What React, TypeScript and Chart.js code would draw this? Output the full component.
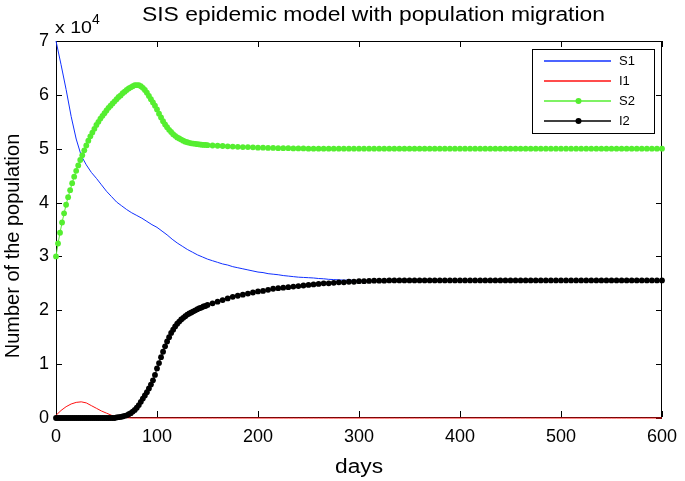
import React, { useEffect, useRef } from "react";
import { Chart, registerables } from "chart.js";

Chart.register(...registerables);

// ---------------- data (population in units of 10^4) ----------------
// time grid of the solid-line series (S1, I1)
const lineDays = [
  0, 5, 10, 15, 20, 25, 30, 35, 40, 45,
  50, 55, 60, 65, 70, 75, 80, 85, 90, 95,
  100, 105, 110, 115, 120, 125, 130, 135, 140, 145,
  150, 155, 160, 165, 170, 175, 180, 185, 190, 195,
  200, 205, 210, 215, 220, 225, 230, 235, 240, 245,
  250, 255, 260, 265, 270, 275, 280, 285, 290, 295,
  300, 305, 310, 315, 320, 325, 330, 335, 340, 345,
  350, 355, 360, 365, 370, 375, 380, 385, 390, 395,
  400, 405, 410, 415, 420, 425, 430, 435, 440, 445,
  450, 455, 460, 465, 470, 475, 480, 485, 490, 495,
  500, 505, 510, 515, 520, 525, 530, 535, 540, 545,
  550, 555, 560, 565, 570, 575, 580, 585, 590, 595,
  600,
];

const S1 = [
  7.0, 6.56, 6.1, 5.6, 5.18, 4.87, 4.7, 4.56, 4.45, 4.33,
  4.21, 4.11, 4.01, 3.94, 3.87, 3.81, 3.76, 3.71, 3.65, 3.59,
  3.54, 3.47, 3.4, 3.32, 3.25, 3.19, 3.13, 3.08, 3.03, 2.99,
  2.95, 2.92, 2.89, 2.86, 2.84, 2.81, 2.79, 2.77, 2.75, 2.73,
  2.71, 2.7, 2.68, 2.67, 2.66, 2.645, 2.635, 2.625, 2.615, 2.61,
  2.605, 2.6, 2.59, 2.585, 2.575, 2.57, 2.565, 2.56, 2.56, 2.555,
  2.55, 2.55, 2.55, 2.55, 2.55, 2.55, 2.55, 2.55, 2.55, 2.55,
  2.55, 2.55, 2.55, 2.55, 2.55, 2.55, 2.55, 2.55, 2.55, 2.55,
  2.55, 2.55, 2.55, 2.55, 2.55, 2.55, 2.55, 2.55, 2.55, 2.55,
  2.55, 2.55, 2.55, 2.55, 2.55, 2.55, 2.55, 2.55, 2.55, 2.55,
  2.55, 2.55, 2.55, 2.55, 2.55, 2.55, 2.55, 2.55, 2.55, 2.55,
  2.55, 2.55, 2.55, 2.55, 2.55, 2.55, 2.55, 2.55, 2.55, 2.55,
  2.55,
];

const I1 = [
  0.05, 0.14, 0.21, 0.26, 0.29, 0.3, 0.28, 0.23, 0.18, 0.13,
  0.09, 0.05, 0.02, 0.01, 0.005, 0, 0, 0, 0, 0,
  0, 0, 0, 0, 0, 0, 0, 0, 0, 0,
  0, 0, 0, 0, 0, 0, 0, 0, 0, 0,
  0, 0, 0, 0, 0, 0, 0, 0, 0, 0,
  0, 0, 0, 0, 0, 0, 0, 0, 0, 0,
  0, 0, 0, 0, 0, 0, 0, 0, 0, 0,
  0, 0, 0, 0, 0, 0, 0, 0, 0, 0,
  0, 0, 0, 0, 0, 0, 0, 0, 0, 0,
  0, 0, 0, 0, 0, 0, 0, 0, 0, 0,
  0, 0, 0, 0, 0, 0, 0, 0, 0, 0,
  0, 0, 0, 0, 0, 0, 0, 0, 0, 0,
  0,
];

// time grid of the marker series (S2, I2): finer where the solver stepped finely
const markerDays = [
  0, 2, 4, 6, 8, 10, 12, 14, 16, 18,
  20, 22, 24, 26, 28, 30, 32, 34, 36, 38,
  40, 42, 44, 46, 48, 50, 52, 54, 56, 58,
  60, 62, 64, 66, 68, 70, 72, 74, 76, 78,
  80, 82, 84, 86, 88, 90, 92, 94, 96, 98,
  100, 102, 104, 106, 108, 110, 112, 114, 116, 118,
  120, 122, 124, 126, 128, 130, 132, 134, 136, 138,
  140, 142, 144, 146, 148, 150,
  155, 160, 165, 170, 175, 180, 185, 190, 195,
  200, 205, 210, 215, 220, 225, 230, 235, 240, 245,
  250, 255, 260, 265, 270, 275, 280, 285, 290, 295,
  300, 305, 310, 315, 320, 325, 330, 335, 340, 345,
  350, 355, 360, 365, 370, 375, 380, 385, 390, 395,
  400, 405, 410, 415, 420, 425, 430, 435, 440, 445,
  450, 455, 460, 465, 470, 475, 480, 485, 490, 495,
  500, 505, 510, 515, 520, 525, 530, 535, 540, 545,
  550, 555, 560, 565, 570, 575, 580, 585, 590, 595,
  600,
];

const S2 = [
  3.0, 3.24, 3.44, 3.63, 3.8, 3.96, 4.1, 4.23, 4.36, 4.48,
  4.59, 4.69, 4.79, 4.88, 4.97, 5.06, 5.15, 5.23, 5.3, 5.37,
  5.44, 5.5, 5.56, 5.61, 5.66, 5.71, 5.76, 5.8, 5.84, 5.88,
  5.92, 5.96, 5.99, 6.03, 6.06, 6.09, 6.12, 6.14, 6.16, 6.18,
  6.18, 6.18, 6.16, 6.13, 6.09, 6.04, 5.98, 5.92, 5.86, 5.8,
  5.73, 5.65, 5.58, 5.51, 5.45, 5.4, 5.35, 5.31, 5.27, 5.24,
  5.21, 5.19, 5.17, 5.15, 5.13, 5.12, 5.11, 5.1, 5.095, 5.09,
  5.085, 5.08, 5.075, 5.07, 5.07, 5.065,
  5.06, 5.055, 5.05, 5.045, 5.04, 5.035, 5.03, 5.03, 5.025,
  5.02, 5.02, 5.015, 5.015, 5.01, 5.01, 5.01, 5.005, 5.005, 5.005,
  5.0, 5.0, 5.0, 5.0, 5.0, 5.0, 5.0, 5.0, 5.0, 5.0,
  5.0, 5.0, 5.0, 5.0, 5.0, 5.0, 5.0, 5.0, 5.0, 5.0,
  5.0, 5.0, 5.0, 5.0, 5.0, 5.0, 5.0, 5.0, 5.0, 5.0,
  5.0, 5.0, 5.0, 5.0, 5.0, 5.0, 5.0, 5.0, 5.0, 5.0,
  5.0, 5.0, 5.0, 5.0, 5.0, 5.0, 5.0, 5.0, 5.0, 5.0,
  5.0, 5.0, 5.0, 5.0, 5.0, 5.0, 5.0, 5.0, 5.0, 5.0,
  5.0, 5.0, 5.0, 5.0, 5.0, 5.0, 5.0, 5.0, 5.0, 5.0,
  5.0,
];

const I2 = [
  0, 0, 0, 0, 0, 0, 0, 0, 0, 0,
  0, 0, 0, 0, 0, 0, 0, 0, 0, 0,
  0, 0, 0, 0, 0, 0, 0, 0, 0, 0,
  0.01, 0.015, 0.02, 0.03, 0.04, 0.05, 0.07, 0.09, 0.12, 0.15,
  0.19, 0.24, 0.3, 0.36, 0.42, 0.48, 0.55, 0.62, 0.7, 0.8,
  0.92, 1.02, 1.13, 1.23, 1.33, 1.42, 1.5, 1.58, 1.64, 1.7,
  1.75, 1.79, 1.83, 1.86, 1.89, 1.92, 1.94, 1.96, 1.98, 2.0,
  2.02, 2.04, 2.05, 2.07, 2.08, 2.1,
  2.13, 2.16, 2.19, 2.22, 2.25, 2.27, 2.29, 2.31, 2.33,
  2.35, 2.36, 2.38, 2.4, 2.41, 2.42, 2.43, 2.44, 2.45, 2.46,
  2.47, 2.48, 2.49, 2.5, 2.5, 2.51, 2.52, 2.52, 2.53, 2.53,
  2.54, 2.54, 2.545, 2.55, 2.55, 2.55, 2.555, 2.555, 2.555, 2.555,
  2.555, 2.555, 2.555, 2.555, 2.555, 2.555, 2.555, 2.555, 2.555, 2.555,
  2.555, 2.555, 2.555, 2.555, 2.555, 2.555, 2.555, 2.555, 2.555, 2.555,
  2.555, 2.555, 2.555, 2.555, 2.555, 2.555, 2.555, 2.555, 2.555, 2.555,
  2.555, 2.555, 2.555, 2.555, 2.555, 2.555, 2.555, 2.555, 2.555, 2.555,
  2.555, 2.555, 2.555, 2.555, 2.555, 2.555, 2.555, 2.555, 2.555, 2.555,
  2.555,
];

const xTicks = [0, 100, 200, 300, 400, 500, 600];
const yTicks = [0, 1, 2, 3, 4, 5, 6, 7];
const seriesNames = ["S1", "I1", "S2", "I2"];
const titleText = "SIS epidemic model with population migration";
const xLabelText = "days";
const yLabelText = "Number of the population";
const multiplierText = "x 10";
const exponentText = "4";

// ---------------- styling ----------------
const FONT = "'Liberation Sans', Arial, Helvetica, sans-serif";
const COLORS = ["#1030ff", "#ff1010", "#55ee30", "#000000"];
const HAS_MARKERS = [false, false, true, true];

function fillScaled(
  ctx: CanvasRenderingContext2D,
  text: string,
  x: number,
  y: number,
  size: number,
  align: CanvasTextAlign,
  targetWidth?: number
) {
  ctx.save();
  ctx.font = `${size}px ${FONT}`;
  ctx.textBaseline = "alphabetic";
  ctx.textAlign = align;
  const w = ctx.measureText(text).width;
  const sx = targetWidth ? targetWidth / w : 1;
  ctx.translate(x, y);
  ctx.scale(sx, 1);
  ctx.fillText(text, 0, 0);
  ctx.restore();
}

const framePlugin = {
  id: "matlabFrame",
  beforeDatasetsDraw(chart: any) {
    const { ctx, chartArea: a, scales } = chart;
    ctx.save();
    ctx.fillStyle = "#000";
    const L = Math.round(a.left);
    const R = Math.round(a.right) - 1;
    const T = Math.round(a.top);
    const B = Math.round(a.bottom) - 1;
    // box
    ctx.fillRect(L, T, R - L + 1, 1);
    ctx.fillRect(L, B, R - L + 1, 1);
    ctx.fillRect(L, T, 1, B - T + 1);
    ctx.fillRect(R, T, 1, B - T + 1);
    // inward ticks on all four sides
    const tl = 6;
    for (const v of xTicks) {
      const px = Math.round(scales.x.getPixelForValue(v));
      ctx.fillRect(px, B - tl, 1, tl);
      ctx.fillRect(px, T, 1, tl);
    }
    for (const v of yTicks) {
      const py = Math.round(scales.y.getPixelForValue(v));
      ctx.fillRect(L, py, tl, 1);
      ctx.fillRect(R - tl + 1, py, tl, 1);
    }
    ctx.restore();
  },
  afterDraw(chart: any) {
    const { ctx, chartArea: a } = chart;
    ctx.save();
    ctx.fillStyle = "#000";
    // title
    fillScaled(ctx, titleText, 373.5, 21, 20, "center", 463);
    // axis multiplier
    fillScaled(ctx, multiplierText, 55, 33, 17, "left", 37);
    fillScaled(ctx, exponentText, 92, 23.5, 14, "left");
    // x label
    fillScaled(ctx, xLabelText, (a.left + a.right) / 2, 473, 20, "center", 48);
    // y label
    ctx.save();
    ctx.translate(18.5, 246);
    ctx.rotate(-Math.PI / 2);
    ctx.font = `20px ${FONT}`;
    ctx.textAlign = "center";
    ctx.textBaseline = "alphabetic";
    ctx.fillStyle = "#000";
    ctx.fillText(yLabelText, 0, 0);
    ctx.restore();

    // legend
    const lx0 = 532, ly0 = 49, lw = 123, lh = 85;
    ctx.fillStyle = "#fff";
    ctx.fillRect(lx0, ly0, lw, lh);
    ctx.fillStyle = "#000";
    ctx.fillRect(lx0, ly0, lw, 1);
    ctx.fillRect(lx0, ly0 + lh - 1, lw, 1);
    ctx.fillRect(lx0, ly0, 1, lh);
    ctx.fillRect(lx0 + lw - 1, ly0, 1, lh);
    for (let i = 0; i < seriesNames.length; i++) {
      const y = 61 + 20 * i;
      const col = COLORS[i];
      ctx.save();
      ctx.strokeStyle = col;
      ctx.lineWidth = 1.3;
      ctx.beginPath();
      ctx.moveTo(544, y);
      ctx.lineTo(611, y);
      ctx.stroke();
      ctx.restore();
      if (HAS_MARKERS[i]) {
        ctx.save();
        ctx.fillStyle = col;
        ctx.beginPath();
        ctx.arc(578.5, y, 3, 0, Math.PI * 2);
        ctx.closePath();
        ctx.fill();
        ctx.restore();
      }
      ctx.save();
      ctx.fillStyle = "#000";
      ctx.font = `13px ${FONT}`;
      ctx.textAlign = "left";
      ctx.textBaseline = "middle";
      ctx.fillText(seriesNames[i], 619, y + 0.5);
      ctx.restore();
    }
    ctx.restore();
  },
};

const seriesValues = [S1, I1, S2, I2];
const seriesDays = [lineDays, lineDays, markerDays, markerDays];

export default function App() {
  const canvasRef = useRef<HTMLCanvasElement | null>(null);

  useEffect(() => {
    if (!canvasRef.current) return;
    const datasets = seriesNames.map((name, i) => ({
      label: name,
      data: seriesDays[i].map((d, k) => ({ x: d, y: seriesValues[i][k] })),
      borderColor: COLORS[i],
      backgroundColor: COLORS[i],
      borderWidth: 1,
      pointRadius: HAS_MARKERS[i] ? 2.9 : 0,
      pointBorderWidth: 0,
      pointBackgroundColor: COLORS[i],
      pointBorderColor: COLORS[i],
      tension: 0,
      fill: false,
      clip: false as any,
      order: 4 - i,
    }));

    const chart = new Chart(canvasRef.current, {
      type: "line",
      data: { datasets },
      options: {
        responsive: false,
        maintainAspectRatio: false,
        animation: false,
        events: [],
        layout: { padding: { left: 0, right: 18, top: 41, bottom: 0 } },
        plugins: {
          legend: { display: false },
          title: { display: false },
          tooltip: { enabled: false },
        },
        scales: {
          x: {
            type: "linear",
            min: 0,
            max: 600,
            grid: { display: false, drawTicks: false },
            border: { display: false },
            ticks: {
              stepSize: 100,
              color: "#000",
              padding: 8,
              font: { family: FONT, size: 18 },
              maxRotation: 0,
            },
            afterFit: (s: any) => {
              s.height = 63;
            },
          },
          y: {
            type: "linear",
            min: 0,
            max: 7,
            grid: { display: false, drawTicks: false },
            border: { display: false },
            ticks: {
              stepSize: 1,
              color: "#000",
              padding: 7,
              font: { family: FONT, size: 18 },
            },
            afterFit: (s: any) => {
              s.width = 56;
            },
          },
        },
      },
      plugins: [framePlugin],
    });
    return () => chart.destroy();
  }, []);

  return (
    <div
      style={{
        position: "fixed",
        left: 0,
        top: 0,
        width: 685,
        height: 481,
        background: "#fff",
      }}
    >
      <canvas
        ref={canvasRef}
        width={685}
        height={481}
        style={{ display: "block", width: 685, height: 481 }}
      />
    </div>
  );
}
